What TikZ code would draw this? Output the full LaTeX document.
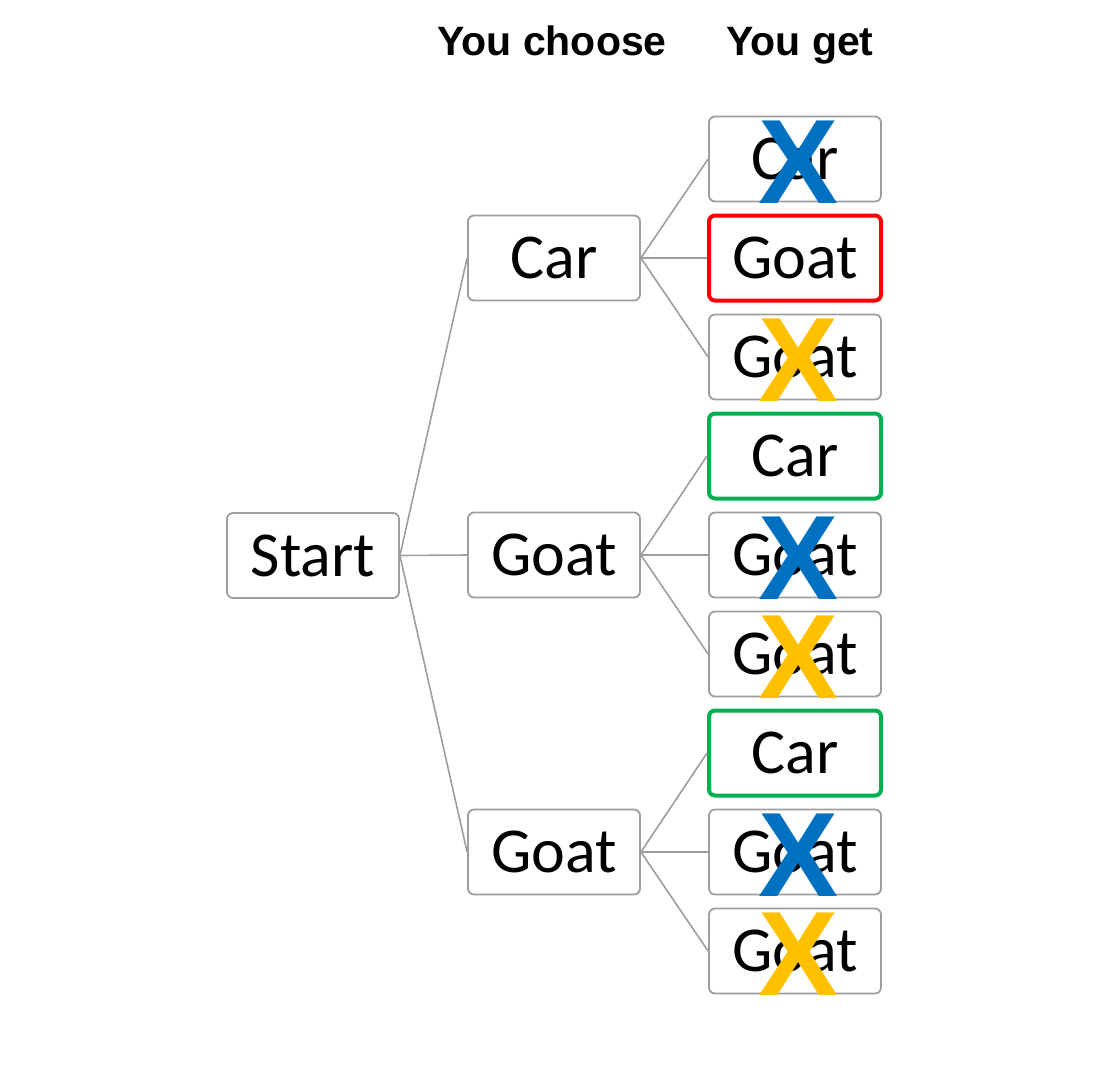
\documentclass[tikz,border=0pt]{standalone}
\usepackage{fontspec}
\setmainfont{Carlito}
\newfontfamily\headfont{Liberation Sans}
\usetikzlibrary{positioning}
\definecolor{xblue}{HTML}{0070C0}
\definecolor{xyellow}{HTML}{FFC000}
\definecolor{wingreen}{HTML}{00B050}
\definecolor{boxgray}{HTML}{9E9E9E}
\tikzset{
x=1pt, y=-1pt, % one unit is one pixel of the reference, y runs downwards
box/.style={draw=boxgray, line width=1.8pt, rounded corners=6pt, fill=white,
  minimum width=172pt, minimum height=85pt, inner sep=0pt,
  font=\fontsize{64}{70}\selectfont}, % sets the properties for each box
lose/.style={box, draw=red, line width=4pt}, % the goat you keep
win/.style={box, draw=wingreen, line width=4pt}, % the car after switching
branch/.style={draw=boxgray, line width=1.6pt}, % lines of the tree
head/.style={anchor=base, font=\headfont\bfseries\fontsize{41}{46}\selectfont},
cross/.style={text=#1, inner sep=0pt, font=\headfont\bfseries\fontsize{120}{120}\selectfont},
}

\begin{document}
\begin{tikzpicture}
    \useasboundingbox (0,0) rectangle (1107,1087);
    % column heads
    \node[head] (hchoose) at (552,55) {You choose};
    \node[head] (hget) at (800,55) {You get};

    % the tree
    \node[box] (start) at (313,555.5) {Start};
    \node[box] (pick1) at (554,258) {Car};
    \node[box] (pick2) at (554,555) {Goat};
    \node[box] (pick3) at (554,852) {Goat};

    \node[box] (get11) at (795,159) {Car};
    \node[lose] (get12) at (795,258) {Goat};
    \node[box] (get13) at (795,357) {Goat};
    \node[win] (get21) at (795,456) {Car};
    \node[box] (get22) at (795,555) {Goat};
    \node[box] (get23) at (795,654) {Goat};
    \node[win] (get31) at (795,753) {Car};
    \node[box] (get32) at (795,852) {Goat};
    \node[box] (get33) at (795,951) {Goat};

    \foreach \i in {1,2,3} {
        \draw[branch] (start.east) -- (pick\i.west);
        \foreach \j in {1,2,3}
            \draw[branch] (pick\i.east) -- (get\i\j.west);
    }

    % doors opened by the host
    \node[cross=xblue] (x11) at ([xshift=4pt,yshift=-3pt]get11.center) {X};
    \node[cross=xyellow] (x13) at ([xshift=4pt,yshift=-3pt]get13.center) {X};
    \node[cross=xblue] (x22) at ([xshift=4pt,yshift=-3pt]get22.center) {X};
    \node[cross=xyellow] (x23) at ([xshift=4pt,yshift=-3pt]get23.center) {X};
    \node[cross=xblue] (x32) at ([xshift=4pt,yshift=-3pt]get32.center) {X};
    \node[cross=xyellow] (x33) at ([xshift=4pt,yshift=-3pt]get33.center) {X};
\end{tikzpicture}
\end{document}
